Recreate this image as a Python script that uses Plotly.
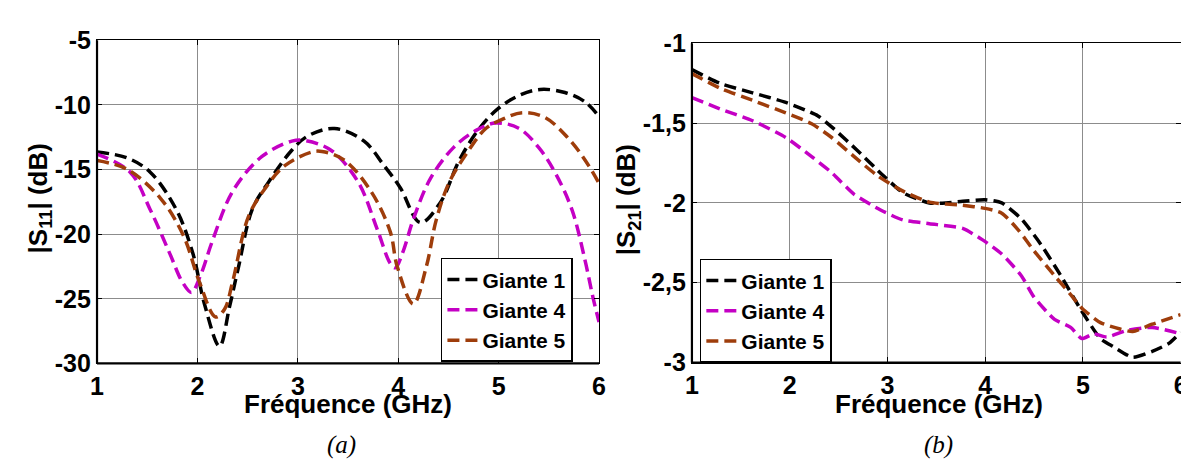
import plotly.graph_objects as go

# ---------------- data: |S11| (left panel) ----------------
s11_g1_f = [1.0, 1.3, 1.53, 1.79, 1.955, 2.07, 2.22, 2.32, 2.41, 2.545, 2.71, 2.94, 3.10, 3.365, 3.66, 3.86, 4.02, 4.22, 4.415, 4.61, 4.81, 5.0, 5.2, 5.415, 5.66, 5.86, 6.0]
s11_g1_db = [-13.64, -14.1, -15.2, -18.1, -21.5, -25.4, -28.67, -25.6, -22.5, -18.1, -15.95, -13.5, -12.4, -11.82, -12.8, -14.7, -16.4, -19.1, -17.6, -14.25, -11.8, -10.25, -9.28, -8.8, -9.04, -9.76, -10.9]

s11_g4_f = [1.0, 1.33, 1.53, 1.725, 1.85, 1.94, 2.03, 2.15, 2.35, 2.64, 2.94, 3.07, 3.33, 3.6, 3.79, 3.92, 3.97, 4.05, 4.15, 4.32, 4.55, 4.78, 4.97, 5.2, 5.4, 5.56, 5.73, 5.86, 5.94, 6.0]
s11_g4_db = [-13.8, -15.2, -18.1, -21.5, -23.7, -24.5, -23.2, -20.5, -16.7, -14.0, -12.8, -12.75, -13.5, -15.95, -19.6, -22.25, -22.6, -21.3, -18.85, -15.7, -13.3, -11.95, -11.4, -11.8, -13.3, -15.2, -18.1, -22.0, -24.9, -26.8]

s11_g5_f = [1.0, 1.3, 1.63, 1.86, 2.02, 2.18, 2.27, 2.35, 2.51, 2.68, 2.87, 3.14, 3.24, 3.46, 3.73, 3.92, 3.99, 4.15, 4.28, 4.38, 4.51, 4.68, 4.875, 5.04, 5.235, 5.465, 5.69, 5.86, 6.0]
s11_g5_db = [-14.3, -14.98, -17.2, -20.1, -23.7, -26.4, -25.8, -23.7, -18.6, -16.4, -14.7, -13.64, -13.6, -14.25, -16.7, -19.8, -22.5, -25.4, -22.5, -18.85, -15.95, -13.76, -11.8, -11.1, -10.6, -10.98, -12.55, -14.25, -16.07]

# ---------------- data: |S21| (right panel) ----------------
s21_g1_f = [1.0, 1.285, 1.62, 1.96, 2.29, 2.46, 2.69, 2.96, 3.16, 3.43, 3.6, 3.77, 4.0, 4.17, 4.37, 4.57, 4.775, 4.98, 5.18, 5.31, 5.51, 5.71, 5.88, 6.0]
s21_g1_db = [-1.165, -1.25, -1.31, -1.37, -1.455, -1.54, -1.67, -1.83, -1.936, -2.0, -2.0, -1.99, -1.98, -2.0, -2.10, -2.26, -2.456, -2.67, -2.85, -2.90, -2.967, -2.93, -2.88, -2.81]

s21_g4_f = [1.0, 1.285, 1.62, 1.96, 2.225, 2.43, 2.66, 2.93, 3.16, 3.43, 3.77, 3.97, 4.17, 4.37, 4.5, 4.71, 4.875, 4.99, 5.11, 5.245, 5.445, 5.71, 6.0]
s21_g4_db = [-1.34, -1.41, -1.485, -1.59, -1.71, -1.81, -1.946, -2.044, -2.107, -2.13, -2.16, -2.23, -2.32, -2.456, -2.59, -2.73, -2.78, -2.85, -2.82, -2.84, -2.80, -2.78, -2.82]

s21_g5_f = [1.0, 1.285, 1.62, 1.96, 2.225, 2.43, 2.66, 2.9, 3.16, 3.43, 3.77, 4.0, 4.17, 4.34, 4.5, 4.71, 4.875, 4.99, 5.18, 5.38, 5.51, 5.71, 6.0]
s21_g5_db = [-1.19, -1.28, -1.357, -1.436, -1.504, -1.59, -1.71, -1.83, -1.926, -1.995, -2.015, -2.034, -2.064, -2.17, -2.30, -2.456, -2.574, -2.66, -2.75, -2.79, -2.806, -2.76, -2.70]

series_names = ["Giante 1", "Giante 4", "Giante 5"]
series_colors = ["#000000", "#C400C4", "#9E3D0B"]

x_ticks = [1, 2, 3, 4, 5, 6]
x_ticktext = ["1", "2", "3", "4", "5", "6"]
s11_ticks = [-30, -25, -20, -15, -10, -5]
s11_ticktext = ["-30", "-25", "-20", "-15", "-10", "-5"]
s21_ticks = [-3, -2.5, -2, -1.5, -1]
s21_ticktext = ["-3", "-2,5", "-2", "-1,5", "-1"]

FONT = "Liberation Sans, Arial, sans-serif"
DASH = "12px,6px"

fig = go.Figure()

left = [(s11_g1_f, s11_g1_db), (s11_g4_f, s11_g4_db), (s11_g5_f, s11_g5_db)]
right = [(s21_g1_f, s21_g1_db), (s21_g4_f, s21_g4_db), (s21_g5_f, s21_g5_db)]

for i, (f, d) in enumerate(left):
    fig.add_trace(go.Scatter(
        x=f, y=d, mode="lines", name=series_names[i],
        line=dict(color=series_colors[i], width=3.5, dash=DASH, shape="spline", smoothing=1.0),
        xaxis="x", yaxis="y", legend="legend", legendgroup="L%d" % i))

for i, (f, d) in enumerate(right):
    fig.add_trace(go.Scatter(
        x=f, y=d, mode="lines", name=series_names[i],
        line=dict(color=series_colors[i], width=3.5, dash=DASH, shape="spline", smoothing=0.6),
        xaxis="x2", yaxis="y2", legend="legend2", legendgroup="R%d" % i))

tickfont = dict(family=FONT, size=25, color="black", weight="bold")
common_axis = dict(
    showgrid=True, gridcolor="#8c8c8c", gridwidth=1,
    showline=True, linecolor="black", linewidth=1.2, mirror="ticks",
    ticks="inside", ticklen=5, tickcolor="black", tickwidth=1,
    tickfont=tickfont, zeroline=False, fixedrange=True,
    ticklabeloverflow="allow",
)

legend_common = dict(
    bgcolor="white", bordercolor="black", borderwidth=1.5,
    font=dict(family=FONT, size=21, color="black", weight="bold"),
    traceorder="grouped", tracegroupgap=0,
    xanchor="left", yanchor="top",
)

fig.update_layout(
    width=1189, height=466,
    margin=dict(l=0, r=0, t=0, b=0),
    paper_bgcolor="white", plot_bgcolor="white",
    showlegend=True,
    xaxis=dict(domain=[83/1189, 591/1189], range=[1, 6], tickvals=x_ticks, ticktext=x_ticktext, anchor="y", **common_axis),
    yaxis=dict(domain=[1-363.3/466, 1-19.5/466], range=[-30, -5], tickvals=s11_ticks, ticktext=s11_ticktext, anchor="x", **common_axis),
    xaxis2=dict(domain=[685/1189, 1179.5/1189], range=[1, 6], tickvals=x_ticks, ticktext=x_ticktext, anchor="y2", **common_axis),
    yaxis2=dict(domain=[1-362.3/466, 1-22.7/466], range=[-3, -1], tickvals=s21_ticks, ticktext=s21_ticktext, anchor="x2", **common_axis),
    legend=dict(x=431/1189, y=1-251/466, **legend_common),
    legend2=dict(x=693/1189, y=1-252/466, **legend_common),
)

# thicker left / bottom frame lines (MATLAB style)
for xr, yr in [("x domain", "y domain"), ("x2 domain", "y2 domain")]:
    fig.add_shape(type="line", xref=xr, yref=yr, x0=0, x1=0, y0=0, y1=1, line=dict(color="black", width=2.2), layer="above")
    fig.add_shape(type="line", xref=xr, yref=yr, x0=0, x1=1, y0=0, y1=0, line=dict(color="black", width=2.2), layer="above")

title_font = dict(family=FONT, size=26, color="black", weight="bold")
annots = [
    dict(text="Fréquence (GHz)", x=337/1189, y=1-406/466, font=title_font),
    dict(text="Fréquence (GHz)", x=935/1189, y=1-406/466, font=title_font),
    dict(text="|S<sub>11</sub>| (dB)", x=25/1189, y=1-188/466, font=title_font, textangle=-90),
    dict(text="|S<sub>21</sub>| (dB)", x=620/1189, y=1-189/466, font=title_font, textangle=-90),
    dict(text="<i>(a)</i>", x=330/1189, y=1-450/466, font=dict(family="Liberation Serif, Times New Roman, serif", size=25, color="black")),
    dict(text="<i>(b)</i>", x=935/1189, y=1-450/466, font=dict(family="Liberation Serif, Times New Roman, serif", size=25, color="black")),
]
for a in annots:
    fig.add_annotation(xref="paper", yref="paper", showarrow=False, xanchor="center", yanchor="middle", **a)

fig.write_html("out.html")
